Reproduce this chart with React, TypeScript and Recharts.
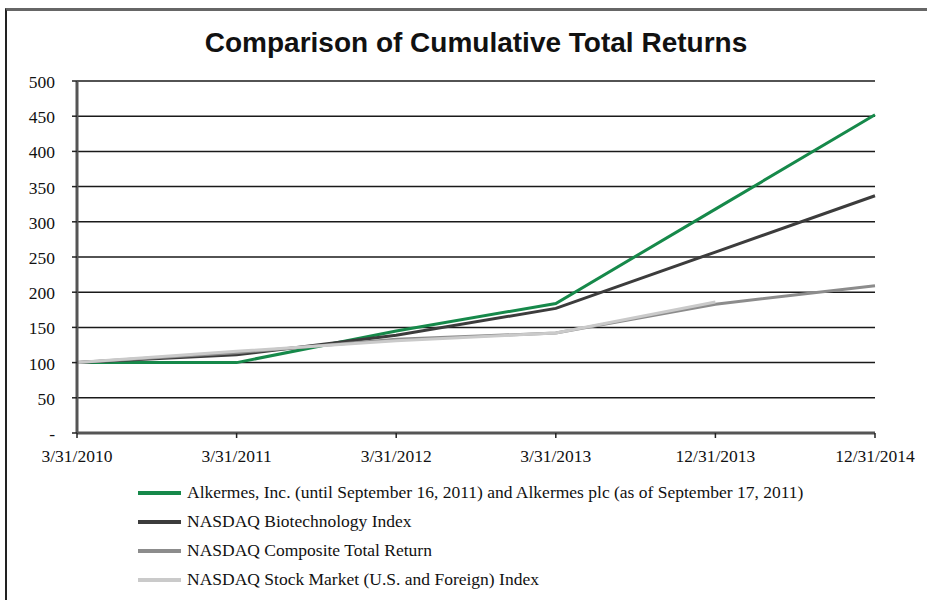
import { LineChart, Line, XAxis, YAxis, CartesianGrid, Legend } from "recharts";

const dates = ["3/31/2010", "3/31/2011", "3/31/2012", "3/31/2013", "12/31/2013", "12/31/2014"];
const alkermes = [100, 100, 145, 184, 318, 452];
const biotech = [100, 111, 139, 177, 257, 337];
const composite = [100, 114, 133, 142, 183, 209];
const stockMarket: (number | null)[] = [100, 116, 131, 142, 186, null];
const yTicks = [0, 50, 100, 150, 200, 250, 300, 350, 400, 450, 500];

const series = [
  { key: "alkermes", name: "Alkermes, Inc. (until September 16, 2011) and Alkermes plc (as of September 17, 2011)", color: "#16894a" },
  { key: "biotech", name: "NASDAQ Biotechnology Index", color: "#3c3c3c" },
  { key: "composite", name: "NASDAQ Composite Total Return", color: "#8c8c8c" },
  { key: "stockMarket", name: "NASDAQ Stock Market (U.S. and Foreign) Index", color: "#cacaca" },
];

const data = dates.map((date, i) => ({
  date,
  alkermes: alkermes[i],
  biotech: biotech[i],
  composite: composite[i],
  stockMarket: stockMarket[i],
}));

const serif = "'Liberation Serif', 'Times New Roman', serif";

function XTick(props: any) {
  const { x, y, payload } = props;
  return (
    <text x={x} y={y + 22} textAnchor="middle" style={{ fontFamily: serif, fontSize: 17.5, fill: "#111" }}>
      {payload.value}
    </text>
  );
}

function YTick(props: any) {
  const { x, y, payload } = props;
  const label = payload.value === 0 ? "-" : String(payload.value);
  return (
    <text x={x - 15} y={y + 7} textAnchor="end" style={{ fontFamily: serif, fontSize: 17.5, fill: "#111" }}>
      {label}
    </text>
  );
}

function LegendBox() {
  return (
    <div style={{ fontFamily: serif, fontSize: 17.5, color: "#111" }}>
      {series.map((s) => (
        <div key={s.key} style={{ display: "flex", alignItems: "center", height: 29 }}>
          <span style={{ display: "inline-block", width: 43, height: 4, background: s.color, marginRight: 6 }} />
          <span>{s.name}</span>
        </div>
      ))}
    </div>
  );
}

export default function App() {
  return (
    <div
      style={{
        position: "absolute",
        left: 0,
        top: 0,
        width: 927,
        height: 600,
        background: "#fff",
        overflow: "hidden",
      }}
    >
      <div
        style={{
          position: "absolute",
          left: 5,
          top: 8,
          width: 940,
          height: 620,
          borderTop: "3px solid #666",
          borderLeft: "2px solid #222",
        }}
      />
      <div
        style={{
          position: "absolute",
          left: 77,
          width: 798,
          top: 27,
          textAlign: "center",
          fontFamily: "'Liberation Sans', Arial, sans-serif",
          fontWeight: 700,
          fontSize: 28,
          color: "#111",
        }}
      >
        Comparison of Cumulative Total Returns
      </div>
      <LineChart
        width={927}
        height={600}
        data={data}
        margin={{ top: 81, right: 52, bottom: 137, left: 0 }}
      >
        <CartesianGrid horizontal vertical={false} stroke="#1a1a1a" strokeWidth={1.5} />
        <XAxis
          dataKey="date"
          scale="point"
          interval={0}
          height={30}
          axisLine={{ stroke: "#555", strokeWidth: 3 }}
          tickLine={{ stroke: "#222", strokeWidth: 1.5 }}
          tickSize={5}
          tick={<XTick />}
        />
        <YAxis
          domain={[0, 500]}
          ticks={yTicks}
          interval={0}
          width={77}
          axisLine={{ stroke: "#555", strokeWidth: 3 }}
          tickLine={{ stroke: "#222", strokeWidth: 1.5 }}
          tickSize={5}
          tick={<YTick />}
        />
        {series.map((s) => (
          <Line
            key={s.key}
            type="linear"
            dataKey={s.key}
            name={s.name}
            stroke={s.color}
            strokeWidth={3}
            dot={false}
            isAnimationActive={false}
          />
        ))}
        <Legend
          layout="vertical"
          align="center"
          verticalAlign="middle"
          wrapperStyle={{ top: 478, left: 138, width: 780 }}
          content={() => <LegendBox />}
        />
      </LineChart>
    </div>
  );
}
